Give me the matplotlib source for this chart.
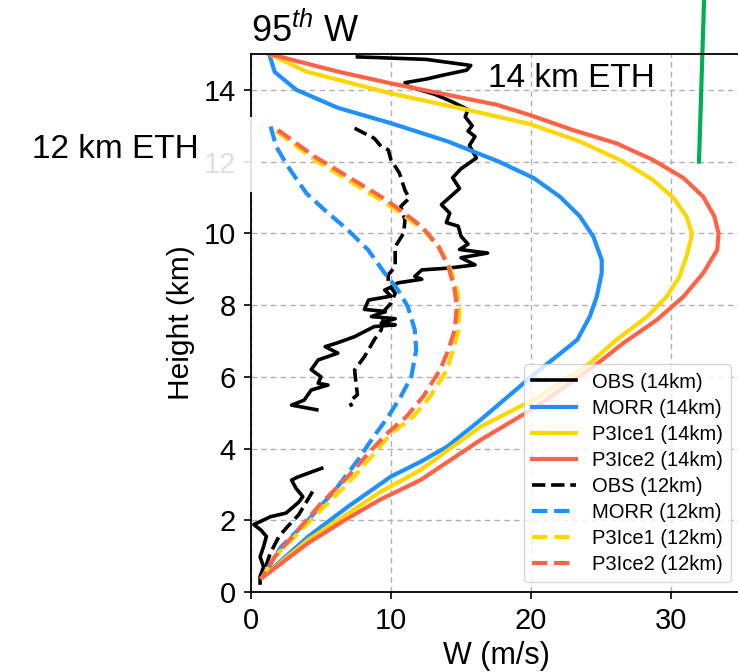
import numpy as np
import matplotlib
matplotlib.use('Agg')
import matplotlib.pyplot as plt
from matplotlib.patches import Rectangle

plt.rcParams['font.family'] = ['Liberation Sans', 'DejaVu Sans']
plt.rcParams['mathtext.fontset'] = 'custom'
plt.rcParams['mathtext.rm'] = 'Liberation Sans'
plt.rcParams['mathtext.it'] = 'Liberation Sans:italic'
plt.rcParams['axes.linewidth'] = 1.3

# ---- data: W (m/s) vs height (km) ----
# observed 14 km ETH profile (two segments, gap marked by nan)
obs14_w = [7.6, 12.5, 15.7, 15.4, 13.6, 12.5, 11.0, 11.2, 13.1, 14.3, 15.5, 15.3, 15.8, 15.5,
           16.0, 15.6, 16.1, 15.0, 14.4, 14.9, 13.6, 14.2, 13.95, 14.8, 15.0, 15.5, 14.9, 16.9,
           15.0, 16.0, 14.1, 12.2, 11.7, 12.2, 10.5, 10.0, 9.55, 10.0, 8.4, 8.1, 9.6, 8.6, 10.3,
           9.3, 10.3, 8.8, 7.4, 6.2, 5.3, 6.2, 4.8, 4.3, 5.0, 4.8, 5.5, 4.3, 3.8, 2.9, 4.7,
           np.nan,
           5.05, 3.3, 2.9, 3.2, 3.7, 3.4, 2.5, 1.4, 0.2, 0.7, 1.1, 0.9, 0.65, 0.9, 0.65, 0.65]
obs14_h = [14.92, 14.85, 14.68, 14.55, 14.4, 14.3, 14.2, 14.1, 13.88, 13.68, 13.45, 13.25, 13.0, 12.85,
           12.7, 12.45, 12.1, 11.8, 11.55, 11.25, 10.8, 10.56, 10.3, 10.2, 9.92, 9.7, 9.55, 9.45,
           9.32, 9.12, 9.03, 8.98, 8.8, 8.72, 8.62, 8.5, 8.42, 8.25, 8.14, 7.88, 7.82, 7.68, 7.62,
           7.5, 7.45, 7.4, 7.12, 6.95, 6.84, 6.66, 6.47, 6.2, 6.0, 5.82, 5.77, 5.63, 5.35, 5.21, 5.08,
           np.nan,
           3.45, 3.2, 3.12, 2.9, 2.66, 2.5, 2.2, 2.1, 1.88, 1.73, 1.55, 1.27, 0.98, 0.7, 0.43, 0.25]

morr14_w = [1.3, 1.69, 3.24, 6.2, 10.0, 14.07, 17.7, 20.2, 22.07, 23.5, 24.45, 25.05, 25.05,
            24.7, 24.2, 23.3, 21.8, 20.6, 19.2, 16.4, 14.0, 12.2, 10.0, 6.93, 4.07, 0.8]
morr14_h = [15.0, 14.5, 14.0, 13.5, 13.07, 12.56, 12.0, 11.54, 11.02, 10.47, 9.91, 9.26, 8.89,
            8.24, 7.68, 7.03, 6.56, 6.19, 5.73, 4.8, 4.05, 3.65, 3.22, 2.38, 1.54, 0.4]

p3ice1_14_w = [1.3, 3.95, 10.0, 15.5, 19.9, 23.5, 26.6, 28.7, 30.2, 31.1, 31.5, 31.4, 31.1, 30.6,
               29.7, 28.3, 26.1, 24.2, 20.6, 16.4, 12.1, 9.2, 6.93, 4.07, 0.8]
p3ice1_14_h = [15.0, 14.51, 13.9, 13.44, 13.05, 12.56, 12.0, 11.49, 10.98, 10.47, 10.0, 9.8, 9.35, 8.79,
               8.24, 7.68, 7.03, 6.38, 5.45, 4.61, 3.4, 2.78, 2.19, 1.45, 0.4]

p3ice2_14_w = [1.3, 6.2, 10.0, 14.07, 17.6, 19.9, 23.0, 26.1, 28.7, 30.9, 32.3, 33.1, 33.4, 33.3,
               32.3, 30.9, 29.0, 26.6, 24.45, 20.4, 16.4, 12.1, 9.2, 6.93, 4.07, 0.8]
p3ice2_14_h = [15.0, 14.51, 14.18, 13.86, 13.58, 13.3, 12.88, 12.51, 12.05, 11.54, 11.02, 10.47, 10.0, 9.54,
               8.89, 8.24, 7.59, 6.94, 6.28, 5.17, 4.24, 3.12, 2.57, 2.06, 1.36, 0.4]

# 12 km ETH profiles
obs12_w = [7.4, 8.8, 9.3, 9.8, 10.0, 10.6, 11.0, 11.3, 10.7, 11.0, 10.9, 10.3, 10.3, 9.8, 9.8, 10.3,
           10.0, 9.55, 9.4, 9.3, 8.8, 8.1, 7.4, 7.5, 7.6, 7.3, 7.05, 7.2,
           np.nan,
           4.4, 3.4, 2.6, 2.0, 1.4, 1.0]
obs12_h = [12.93, 12.65, 12.42, 12.33, 12.05, 11.68, 11.2, 10.98, 10.75, 10.37, 10.0, 9.63, 9.07, 8.84, 8.6, 8.33,
           8.05, 7.86, 7.49, 7.31, 7.03, 6.56, 6.19, 5.82, 5.5, 5.4, 5.3, 5.17,
           np.nan,
           2.8, 2.15, 1.82, 1.55, 1.1, 0.66]

morr12_w = [1.4, 1.8, 2.64, 3.95, 5.26, 6.93, 8.36, 9.55, 10.5, 11.2, 11.7, 11.8, 11.45, 10.7,
            9.8, 8.6, 7.64, 6.0, 4.07, 2.16, 0.8]
morr12_h = [12.98, 12.42, 11.86, 11.12, 10.65, 10.09, 9.54, 8.89, 8.42, 7.96, 7.31, 6.75, 6.0, 5.45,
            4.89, 4.24, 3.68, 2.84, 2.0, 1.26, 0.4]

p3ice1_12_w = [1.8, 4.55, 6.93, 9.3, 10.5, 12.4, 13.6, 14.3, 14.75, 14.9, 14.8, 14.4, 14.0, 12.8,
               11.6, 10.0, 8.6, 6.93, 5.0, 3.36, 1.69, 0.8]
p3ice1_12_h = [12.85, 12.05, 11.48, 10.92, 10.62, 10.07, 9.5, 8.95, 8.35, 7.9, 7.25, 6.7, 6.19, 5.45,
               4.89, 4.42, 3.77, 3.03, 2.29, 1.64, 0.98, 0.4]

p3ice2_12_w = [1.93, 4.55, 6.93, 9.3, 10.3, 12.2, 13.4, 14.1, 14.55, 14.7, 14.55, 14.1, 13.5, 12.3,
               11.1, 9.8, 8.6, 6.93, 5.0, 3.36, 1.69, 0.8]
p3ice2_12_h = [12.88, 12.14, 11.58, 11.02, 10.75, 10.19, 9.63, 9.07, 8.42, 7.96, 7.31, 6.75, 6.19, 5.45,
               4.89, 4.45, 3.96, 3.22, 2.47, 1.73, 0.98, 0.4]

# green marker line (drawn beyond the top of the axes)
green_w = [32.0, 32.36]
green_h = [12.0, 16.5]

c_obs, c_morr, c_ice1, c_ice2 = 'black', '#1E90FF', '#FFD700', '#FF6347'

fig = plt.figure(figsize=(7.38, 6.72), dpi=100)
ax = fig.add_axes([251 / 738, 1 - 592 / 672, 490 / 738, 538 / 672])

ax.plot(obs14_w, obs14_h, color=c_obs, lw=2.6, label='OBS (14km)')
ax.plot(morr14_w, morr14_h, color=c_morr, lw=3, label='MORR (14km)')
ax.plot(p3ice1_14_w, p3ice1_14_h, color=c_ice1, lw=3, label='P3Ice1 (14km)')
ax.plot(p3ice2_14_w, p3ice2_14_h, color=c_ice2, lw=3, label='P3Ice2 (14km)')
ax.plot(obs12_w, obs12_h, color=c_obs, lw=2.6, ls='--', label='OBS (12km)')
ax.plot(morr12_w, morr12_h, color=c_morr, lw=3, ls='--', label='MORR (12km)')
ax.plot(p3ice1_12_w, p3ice1_12_h, color=c_ice1, lw=3, ls='--', label='P3Ice1 (12km)')
ax.plot(p3ice2_12_w, p3ice2_12_h, color=c_ice2, lw=3, ls='--', label='P3Ice2 (12km)')
ax.plot(green_w, green_h, color='#00B050', lw=3, clip_on=False)

ax.set_xlim(0, 35)
ax.set_ylim(0, 15)
ax.set_xticks([0, 10, 20, 30])
ax.set_yticks(np.arange(0, 15, 2))
ax.tick_params(labelsize=21, length=5, width=1.2, pad=6)
ax.grid(True, color='#b0b0b0', lw=1, ls=(0, (4, 3)))
ax.set_xlabel('W (m/s)', fontsize=22, labelpad=4)
ax.set_ylabel('Height (km)', fontsize=21.5, labelpad=6)
ax.set_title(r'95$^{th}$ W', loc='left', fontsize=26, pad=9)

ax.text(16.9, 14.07, '14 km ETH', fontsize=24, va='baseline')

# translucent white patch behind the outside label
fig.add_artist(Rectangle((14 / 738, 1 - 192 / 672), (257 - 14) / 738, 75 / 672,
                         transform=fig.transFigure, facecolor='white', edgecolor='none',
                         alpha=0.88, zorder=5))
fig.text(31.7 / 738, 1 - 158.3 / 672, '12 km ETH', fontsize=24, va='baseline', zorder=6)

ax.legend(loc='lower right', fontsize=14.5, handlelength=2.2, labelspacing=0.35,
          borderaxespad=0.5)

fig.savefig('out.png', dpi=100)
